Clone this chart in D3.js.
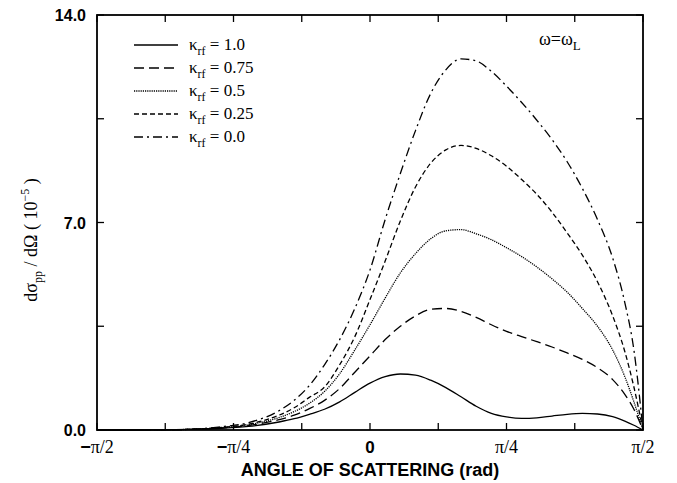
<!DOCTYPE html>
<html>
<head>
<meta charset="utf-8">
<script src="https://cdn.jsdelivr.net/npm/d3@7"></script>
<style>
  body { margin: 0; background: #fff; }
  text { fill: #000; }
</style>
</head>
<body>
<div id="chart"></div>
<script>
// scattering angle in degrees (axis is labelled in fractions of pi)
var angles = [-90, -75, -60, -50, -40, -30, -25, -20, -15, -10, -5, 0, 5, 10, 15, 20, 25, 30, 35, 40, 45, 50, 55, 60, 65, 70, 75, 80, 84, 87, 90]

// cross section, units of 1e-5
var k100 = [0, 0, 0.02, 0.05, 0.12, 0.27, 0.38, 0.53, 0.7, 0.95, 1.27, 1.58, 1.8, 1.89, 1.85, 1.68, 1.43, 1.12, 0.8, 0.56, 0.44, 0.39, 0.41, 0.47, 0.53, 0.56, 0.54, 0.45, 0.3, 0.16, 0]
var k075 = [0, 0, 0.02, 0.06, 0.15, 0.35, 0.5, 0.72, 1.0, 1.4, 1.95, 2.5, 3.05, 3.5, 3.85, 4.07, 4.1, 4.0, 3.8, 3.55, 3.33, 3.15, 2.98, 2.8, 2.6, 2.38, 2.1, 1.7, 1.2, 0.7, 0]
var k050 = [0, 0, 0.02, 0.07, 0.18, 0.42, 0.62, 0.9, 1.3, 1.9, 2.7, 3.55, 4.45, 5.3, 5.95, 6.45, 6.72, 6.76, 6.62, 6.42, 6.15, 5.85, 5.5, 5.1, 4.65, 4.1, 3.5, 2.7, 1.8, 0.95, 0]
var k025 = [0, 0, 0.02, 0.08, 0.2, 0.5, 0.75, 1.1, 1.45, 2.2, 3.15, 4.4, 5.7, 7.05, 8.2, 9.0, 9.45, 9.6, 9.5, 9.25, 8.9, 8.45, 7.95, 7.35, 6.65, 5.9, 5.0, 3.85, 2.65, 1.45, 0]
var k000 = [0, 0, 0.02, 0.1, 0.25, 0.65, 1.0, 1.5, 2.2, 3.05, 4.1, 5.4, 7.1, 8.65, 10.1, 11.35, 12.15, 12.52, 12.45, 12.1, 11.6, 11.05, 10.45, 9.8, 9.05, 8.15, 7.1, 5.8, 4.3, 2.7, 0]

var seriesNames = ["1.0", "0.75", "0.5", "0.25", "0.0"]
var seriesValues = [k100, k075, k050, k025, k000]
var dashes = [null, "10,5", "1.2,1", "5,3", "9,4,2,4"]

var xTicks = [-90, -45, 0, 45, 90]
var xTickLabels = ["\u2212\u03c0/2", "\u2212\u03c0/4", "0", "\u03c0/4", "\u03c0/2"]
var yTicks = [0, 7, 14]

var width = 677,
    height = 483
var margin = {left: 97, right: 34, top: 15, bottom: 53}

var svg = d3.select("#chart")
  .append("svg")
    .attr("width", width)
    .attr("height", height)

var x = d3.scaleLinear().domain([-90, 90]).range([margin.left, width - margin.right])
var y = d3.scaleLinear().domain([0, 14]).range([height - margin.bottom, margin.top])

// ticks pointing inward, every pi/8 and every 3.5
var tickLen = 7
var minorX = d3.range(-90, 90.1, 22.5)
var minorY = d3.range(0, 14.1, 3.5)

var axes = svg.append("g").attr("stroke", "#000").attr("stroke-width", 1.3)
minorX.forEach(function(t) {
  axes.append("line").attr("x1", x(t)).attr("x2", x(t)).attr("y1", y(0)).attr("y2", y(0) - tickLen)
  axes.append("line").attr("x1", x(t)).attr("x2", x(t)).attr("y1", y(14)).attr("y2", y(14) + tickLen)
})
minorY.forEach(function(t) {
  axes.append("line").attr("x1", x(-90)).attr("x2", x(-90) + tickLen).attr("y1", y(t)).attr("y2", y(t))
  axes.append("line").attr("x1", x(90)).attr("x2", x(90) - tickLen).attr("y1", y(t)).attr("y2", y(t))
})

// curves
var line = d3.line()
  .x(function(d) { return x(d[0]) })
  .y(function(d) { return y(d[1]) })
  .curve(d3.curveMonotoneX)

seriesValues.forEach(function(vals, i) {
  svg.append("path")
    .datum(angles.map(function(a, j) { return [a, vals[j]] }))
    .attr("d", line)
    .attr("fill", "none")
    .attr("stroke", "#000")
    .attr("stroke-width", 1.3)
    .attr("stroke-dasharray", dashes[i])
})

// frame
svg.append("rect")
  .attr("x", x(-90)).attr("y", y(14))
  .attr("width", x(90) - x(-90)).attr("height", y(0) - y(14))
  .attr("fill", "none").attr("stroke", "#000").attr("stroke-width", 1.8)

// y tick labels
svg.selectAll(".ylab")
  .data(yTicks)
  .enter().append("text")
    .attr("x", x(-90) - 11)
    .attr("y", function(d) { return y(d) + 6 })
    .attr("text-anchor", "end")
    .style("font", "bold 16px 'Liberation Sans', Arial, sans-serif")
    .text(function(d) { return d.toFixed(1) })

// x tick labels
xTicks.forEach(function(t, i) {
  var lab = xTickLabels[i]
  var tx = svg.append("text")
    .attr("x", x(t))
    .attr("y", y(0) + 23)
    .attr("text-anchor", "middle")
  if (lab === "0") {
    tx.style("font", "bold 17px 'Liberation Sans', Arial, sans-serif").text("0")
  } else {
    tx.style("font", "18px 'Liberation Serif', 'Times New Roman', serif")
    if (lab.charAt(0) === "\u2212") {
      tx.append("tspan").style("font-weight", "bold").style("font-family", "'Liberation Sans', sans-serif").text("\u2212")
      tx.append("tspan").text(lab.slice(1))
    } else {
      tx.text(lab)
    }
  }
})

// axis titles
svg.append("text")
  .attr("x", x(0))
  .attr("y", 476)
  .attr("text-anchor", "middle")
  .style("font", "bold 18px 'Liberation Sans', Arial, sans-serif")
  .text("ANGLE OF SCATTERING (rad)")

var yt = svg.append("text")
  .attr("transform", "translate(37," + 240 + ") rotate(-90)")
  .attr("text-anchor", "middle")
  .style("font", "18px 'Liberation Serif', 'Times New Roman', serif")
yt.append("tspan").text("d\u03c3")
yt.append("tspan").attr("dy", 5).style("font-size", "12px").text("pp")
yt.append("tspan").attr("dy", -5).text(" / d\u03a9  ( 10")
yt.append("tspan").attr("dy", -8).style("font-size", "12px").text("\u22125")
yt.append("tspan").attr("dy", 8).text(" )")

// omega label
var om = svg.append("text")
  .attr("x", 539).attr("y", 45)
  .style("font", "18px 'Liberation Serif', 'Times New Roman', serif")
om.append("tspan").text("\u03c9=\u03c9")
om.append("tspan").attr("dy", 5).style("font-size", "13px").text("L")

// legend
var legend = svg.append("g")
seriesNames.forEach(function(name, i) {
  var ly = 45 + i * 23
  legend.append("line")
    .attr("x1", 134).attr("x2", 178).attr("y1", ly).attr("y2", ly)
    .attr("stroke", "#000").attr("stroke-width", 1.3)
    .attr("stroke-dasharray", dashes[i])
  var t = legend.append("text")
    .attr("x", 189).attr("y", ly + 5)
    .style("font", "17px 'Liberation Serif', 'Times New Roman', serif")
  t.append("tspan").text("\u03ba")
  t.append("tspan").attr("dy", 5).style("font-size", "12px").text("rf")
  t.append("tspan").attr("dy", -5).text(" = " + name)
})
</script>
</body>
</html>
